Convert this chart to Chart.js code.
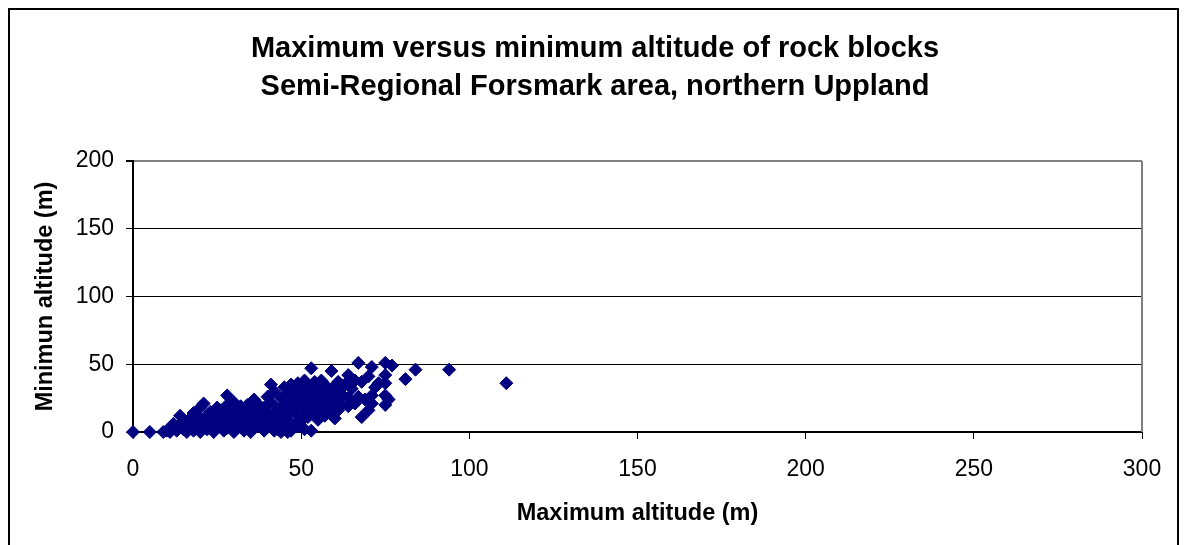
<!DOCTYPE html>
<html lang="en">
  <head>
    <meta charset="UTF-8" />
    <title>Maximum versus minimum altitude of rock blocks</title>
    <script src="https://cdn.jsdelivr.net/npm/chart.js"></script>
    <style>
      body {
        margin: 0;
        padding: 0;
        background: #ffffff;
      }
      canvas {
        display: block;
      }
    </style>
  </head>
  <body>
    <canvas id="chartAltitude" width="1186" height="545"></canvas>

    <script>
      // maximum altitude (m) of each rock block
      const maxAltitude = [
        0, 5, 9, 10, 11, 12, 12, 13, 14, 14, 15, 15, 16, 16, 17, 17, 18, 18, 19, 19,
        20, 20, 20, 21, 21, 22, 22, 23, 23, 24, 24, 25, 25, 26, 26, 27, 27, 28, 28, 28,
        29, 29, 30, 30, 30, 31, 31, 32, 32, 33, 33, 33, 34, 34, 35, 35, 36, 36, 36, 37,
        37, 38, 38, 39, 39, 40, 40, 40, 41, 41, 41, 42, 42, 42, 43, 43, 44, 44, 45, 45,
        45, 46, 46, 47, 47, 47, 48, 48, 48, 49, 49, 49, 50, 50, 50, 51, 51, 51, 52, 52,
        52, 53, 53, 53, 53, 54, 54, 54, 55, 55, 55, 56, 56, 56, 57, 57, 57, 58, 58, 59,
        59, 59, 60, 60, 60, 61, 61, 61, 62, 62, 63, 64, 64, 64, 65, 66, 66, 67, 67, 68,
        68, 69, 70, 70, 71, 71, 71, 72, 73, 75, 75, 75, 75, 75, 76, 77, 81, 84, 94, 111,
        43, 46, 49, 51, 44, 47, 23, 26, 29, 32, 35, 38, 18, 21, 24, 27
      ];
      // minimum altitude (m) of each rock block
      const minAltitude = [
        0, 0, 0, 1, 0, 3, 6, 1, 12, 4, 2, 8, 0, 5, 10, 3, 1, 7, 13, 4,
        18, 0, 9, 21, 5, 2, 12, 7, 15, 0, 3, 10, 18, 5, 13, 1, 8, 27, 20, 3,
        11, 16, 0, 6, 22, 13, 3, 9, 18, 1, 5, 14, 11, 20, 0, 7, 24, 16, 3, 10,
        21, 5, 13, 1, 18, 8, 26, 14, 35, 4, 22, 11, 1, 30, 17, 7, 25, 13, 2, 33,
        20, 9, 28, 15, 35, 24, 5, 19, 31, 12, 27, 36, 8, 22, 33, 17, 29, 38, 11, 25,
        34, 47, 1, 20, 30, 14, 37, 27, 9, 23, 33, 18, 29, 38, 12, 25, 35, 21, 31, 45,
        16, 27, 10, 34, 23, 37, 16, 30, 28, 20, 35, 19, 42, 25, 32, 21, 38, 51, 26, 11,
        37, 24, 41, 16, 48, 27, 21, 33, 36, 51, 42, 36, 27, 20, 24, 49, 39, 46, 46, 36,
        2, 0, 4, 2, 0, 1, 10, 16, 6, 19, 11, 17, 14, 9, 7, 13
      ];

      const xTicks = [0, 50, 100, 150, 200, 250, 300];
      const yTicks = [0, 50, 100, 150, 200];

      const points = maxAltitude.map((v, i) => ({ x: v, y: minAltitude[i] }));

      // outer frame + grey right edge of the plot
      const framePlugin = {
        id: "frame",
        beforeDraw(chart) {
          const ctx = chart.ctx;
          ctx.save();
          ctx.fillStyle = "#ffffff";
          ctx.fillRect(0, 0, chart.width, chart.height);
          ctx.strokeStyle = "#000000";
          ctx.lineWidth = 2;
          ctx.strokeRect(9, 9, 1169, 560);
          ctx.restore();
        },
        afterDatasetsDraw(chart) {
          const a = chart.chartArea;
          const ctx = chart.ctx;
          ctx.save();
          ctx.strokeStyle = "#808080";
          ctx.lineWidth = 2;
          ctx.beginPath();
          ctx.moveTo(a.right, a.top);
          ctx.lineTo(a.right, a.bottom);
          ctx.stroke();
          ctx.restore();
        },
      };

      const ctxAltitude = document.getElementById("chartAltitude");
      new Chart(ctxAltitude, {
        type: "scatter",
        data: {
          datasets: [
            {
              label: "Rock blocks",
              data: points,
              pointStyle: "rectRot",
              pointRadius: 6.5,
              backgroundColor: "#000080",
              borderColor: "#000080",
              borderWidth: 1,
              clip: false,
            },
          ],
        },
        options: {
          responsive: false,
          animation: false,
          maintainAspectRatio: false,
          layout: {
            padding: { top: 9, left: 48, right: 44, bottom: 13 },
          },
          plugins: {
            legend: { display: false },
            tooltip: { enabled: false },
            title: {
              display: true,
              text: [
                "Maximum versus minimum altitude of rock blocks",
                "Semi-Regional Forsmark area, northern Uppland",
              ],
              color: "#000000",
              font: { family: "Liberation Sans, Arial", size: 29, weight: "bold", lineHeight: 1.31 },
              padding: { top: 21, bottom: 55 },
            },
          },
          scales: {
            x: {
              type: "linear",
              min: 0,
              max: 300,
              afterBuildTicks: (s) => {
                s.ticks = xTicks.map((v) => ({ value: v }));
              },
              afterFit: (s) => {
                s.height = 100;
              },
              ticks: {
                color: "#000000",
                font: { family: "Liberation Sans, Arial", size: 23 },
                padding: 17,
              },
              grid: {
                drawOnChartArea: false,
                drawTicks: true,
                tickLength: 7,
                tickColor: "#000000",
                tickWidth: 1,
              },
              border: { color: "#000000", width: 2 },
              title: {
                display: true,
                text: "Maximum altitude (m)",
                color: "#000000",
                font: { family: "Liberation Sans, Arial", size: 23.5, weight: "bold" },
                padding: { top: 15 },
              },
            },
            y: {
              type: "linear",
              min: 0,
              max: 200,
              afterBuildTicks: (s) => {
                s.ticks = yTicks.map((v) => ({ value: v }));
              },
              afterFit: (s) => {
                s.width = 85;
              },
              ticks: {
                color: "#000000",
                font: { family: "Liberation Sans, Arial", size: 23 },
                padding: 12,
              },
              grid: {
                color: (c) => (c.tick && c.tick.value === 200 ? "#808080" : "#000000"),
                lineWidth: (c) => (c.tick && c.tick.value === 200 ? 2 : 1),
                tickColor: "#000000",
                tickLength: 7,
              },
              border: { color: "#000000", width: 2 },
              title: {
                display: true,
                text: "Minimun altitude (m)",
                color: "#000000",
                font: { family: "Liberation Sans, Arial", size: 23.5, weight: "bold" },
                padding: { top: -17, bottom: 0 },
              },
            },
          },
        },
        plugins: [framePlugin],
      });
    </script>
  </body>
</html>
